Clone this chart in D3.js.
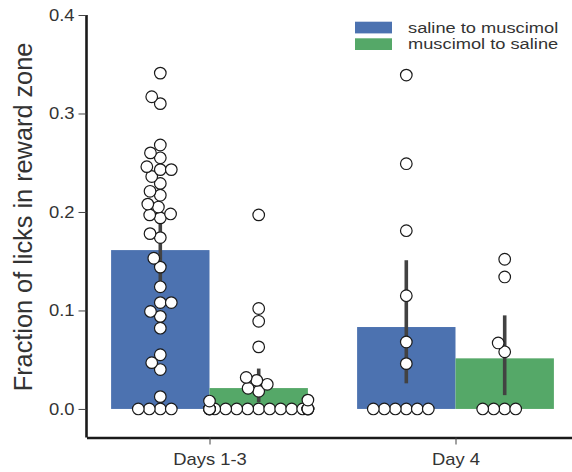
<!DOCTYPE html>
<html>
<head>
<meta charset="utf-8">
<script src="https://cdn.jsdelivr.net/npm/d3@7"></script>
<style>
  body { margin: 0; background: #fff; }
  text { font-family: "Liberation Sans", Arial, sans-serif; fill: #333; }
</style>
</head>
<body>
<div class="chart"></div>
<script>
// categories / hues
var categories = ["Days 1-3", "Day 4"];
var hues = ["saline to muscimol", "muscimol to saline"];
var hueColors = ["#4c72b0", "#55a868"];
var yTicks = [0.0, 0.1, 0.2, 0.3, 0.4];

// per-animal values
var salMusDays13 = [0.341, 0.317, 0.310, 0.268, 0.260, 0.255, 0.246, 0.243, 0.243, 0.236,
    0.229, 0.221, 0.217, 0.208, 0.205, 0.198, 0.197, 0.194, 0.178, 0.174,
    0.153, 0.144, 0.124, 0.108, 0.108, 0.099, 0.094, 0.082, 0.055, 0.047,
    0.040, 0.0125, 0, 0, 0, 0];
var musSalDays13 = [0.197, 0.102, 0.089, 0.063, 0.032, 0.029, 0.025, 0.021, 0.018, 0.009, 0.008,
    0, 0, 0, 0, 0, 0, 0, 0, 0, 0, 0, 0, 0, 0, 0, 0, 0];
var salMusDay4 = [0.339, 0.249, 0.181, 0.115, 0.068, 0.046, 0, 0, 0, 0, 0, 0];
var musSalDay4 = [0.152, 0.134, 0.067, 0.058, 0, 0, 0, 0];

// confidence intervals [low, high] per category
var salMusCI = [[0.128, 0.192], [0.026, 0.151]];
var musSalCI = [[0.007, 0.041], [0.014, 0.095]];

var groups = [
    {cat: 0, hue: 0, values: salMusDays13, ci: salMusCI[0]},
    {cat: 0, hue: 1, values: musSalDays13, ci: musSalCI[0]},
    {cat: 1, hue: 0, values: salMusDay4, ci: salMusCI[1]},
    {cat: 1, hue: 1, values: musSalDay4, ci: musSalCI[1]}
];

var width = 572, height = 472;
var svg = d3.select(".chart").append("svg")
    .attr("width", width)
    .attr("height", height);

var sx = 1.15; // picture is a bit wider than tall
var x = d3.scaleLinear().domain([-0.5, 1.5]).range([86.5, 578.5]);
var y = d3.scaleLinear().domain([-0.029, 0.4]).range([437.5, 15]);
var hueOffset = [-0.2, 0.2];
var barW = x(0.4) - x(0);

// bars
svg.selectAll(".bar")
    .data(groups)
    .enter().append("rect")
    .attr("class", "bar")
    .attr("x", function(d) { return x(d.cat + hueOffset[d.hue] - 0.2); })
    .attr("width", barW)
    .attr("y", function(d) { return y(d3.mean(d.values)); })
    .attr("height", function(d) { return y(0) - y(d3.mean(d.values)); })
    .attr("fill", function(d) { return hueColors[d.hue]; });

// error bars
svg.selectAll(".err")
    .data(groups)
    .enter().append("line")
    .attr("class", "err")
    .attr("x1", function(d) { return x(d.cat + hueOffset[d.hue]); })
    .attr("x2", function(d) { return x(d.cat + hueOffset[d.hue]); })
    .attr("y1", function(d) { return y(d.ci[0]); })
    .attr("y2", function(d) { return y(d.ci[1]); })
    .attr("stroke", "#424242")
    .attr("stroke-width", 3.6);

// simple beeswarm, lowest values first, closest free spot to the centre
var r = 5.8, D = 11;
function swarm(values, cx, half) {
    var pts = values.map(function(v) { return {v: v, py: y(v), dx: 0}; })
        .sort(function(a, b) { return b.py - a.py; });
    var placed = [];
    pts.forEach(function(p) {
        var cands = [0];
        placed.forEach(function(q) {
            var dy = p.py - q.py;
            if (Math.abs(dy) < D) {
                var dx = Math.sqrt(D * D - dy * dy);
                cands.push(q.dx - dx, q.dx + dx);
            }
        });
        cands = cands.map(function(c, i) { return {c: c, i: i}; })
            .sort(function(a, b) { return (Math.abs(a.c) - Math.abs(b.c)) || (a.i - b.i); });
        for (var k = 0; k < cands.length; k++) {
            var c = cands[k].c;
            var ok = placed.every(function(q) {
                var ddx = c - q.dx, ddy = p.py - q.py;
                return ddx * ddx + ddy * ddy >= D * D * 0.999;
            });
            if (ok) { p.dx = c; break; }
        }
        placed.push(p);
    });
    return pts.map(function(p) {
        return {px: cx + Math.max(-half, Math.min(half, p.dx)), py: p.py};
    });
}

var dots = [];
groups.forEach(function(g) {
    dots = dots.concat(swarm(g.values, x(g.cat + hueOffset[g.hue]), barW / 2));
});

svg.selectAll(".dot")
    .data(dots)
    .enter().append("circle")
    .attr("class", "dot")
    .attr("cx", function(d) { return d.px; })
    .attr("cy", function(d) { return d.py; })
    .attr("r", r)
    .attr("fill", "#fff")
    .attr("stroke", "#1a1a1a")
    .attr("stroke-width", 1.2);

// axes
var yAxis = svg.append("g")
    .attr("transform", "translate(" + x(-0.5) + ",0)")
    .call(d3.axisLeft(y).tickValues(yTicks).tickFormat(d3.format(".1f")).tickSize(8).tickSizeOuter(0));
var xAxis = svg.append("g")
    .attr("transform", "translate(0," + y(-0.029) + ")")
    .call(d3.axisBottom(x).tickValues([0, 1]).tickFormat(function(d) { return categories[d]; })
        .tickSize(7).tickSizeOuter(0));

[yAxis, xAxis].forEach(function(g) {
    g.select(".domain").attr("stroke", "#1a1a1a").attr("stroke-width", 2.6);
    g.selectAll(".tick line").attr("stroke", "#444").attr("stroke-width", 1);
    g.selectAll(".tick text").attr("font-size", 16).attr("fill", "#333")
        .attr("font-family", "Liberation Sans, Arial, sans-serif");
});
// left axis: y line spans from the bottom axis to 0.4
yAxis.select(".domain").attr("d", "M0," + y(-0.029) + "V" + y(0.4));
yAxis.selectAll(".tick text").attr("x", null).attr("dy", null)
    .attr("transform", "translate(-12,5.5) scale(" + sx + ",1)")
    .attr("text-anchor", "end");
xAxis.selectAll(".tick text").attr("y", null).attr("dy", null)
    .attr("transform", "translate(0,27) scale(" + sx + ",1)");

// y label
svg.append("text")
    .attr("transform", "translate(32,217) rotate(-90) scale(1.1," + sx + ")")
    .attr("text-anchor", "middle")
    .attr("font-size", 23)
    .text("Fraction of licks in reward zone");

// legend
var legend = svg.selectAll(".legend")
    .data(hues)
    .enter().append("g")
    .attr("class", "legend")
    .attr("transform", function(d, i) { return "translate(355," + (21.7 + i * 16.6) + ")"; });
legend.append("rect")
    .attr("width", 37)
    .attr("height", 11.7)
    .attr("fill", function(d, i) { return hueColors[i]; });
legend.append("text")
    .attr("transform", "translate(53,10.8) scale(1.26,1)")
    .attr("font-size", 14.5)
    .text(function(d) { return d; });
</script>
</body>
</html>
